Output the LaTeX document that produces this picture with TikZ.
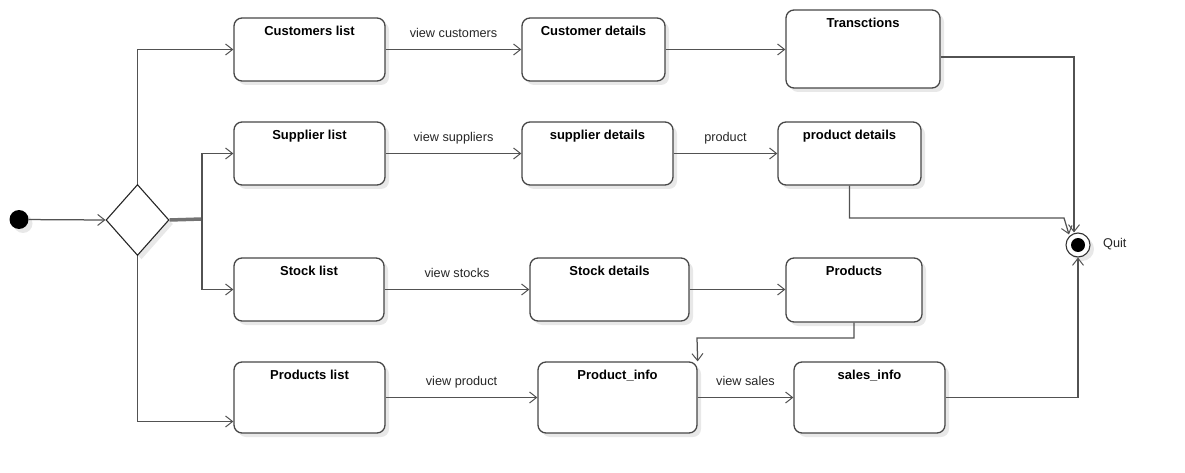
\documentclass[tikz,border=0pt]{standalone}
\usepackage{fontspec}
\setmainfont{Liberation Sans}
\usetikzlibrary{arrows.meta,shapes.geometric,shadows}
\begin{document}
\begin{tikzpicture}[x=1pt,y=-1pt,
  line/.style={draw=black!68, line width=1.25pt},
  arr/.style={line, -{Straight Barb[length=7pt,width=11pt,line width=1pt]}},
  shad/.style={drop shadow={shadow xshift=4pt, shadow yshift=-4pt, fill=black!9, opacity=1}},
  box/.style={draw=black!72, line width=1.3pt, rounded corners=8pt, fill=white, shad, inner sep=0pt},
  title/.style={font=\bfseries\fontsize{13}{15}\selectfont, anchor=north, yshift=-9pt, inner sep=0pt},
  lbl/.style={midway, anchor=base, yshift=12pt, inner sep=0pt, font=\fontsize{12.7}{15}\selectfont, text=black!85},
  lab/.style={inner sep=0pt, font=\fontsize{12.7}{15}\selectfont, text=black!85}
]
\useasboundingbox (0,0) rectangle (1185,473);

% boxes
\node[box, minimum width=151pt, minimum height=63pt, label={[title]north:Customers list}] (cl) at (309.5,49.5) {};
\node[box, minimum width=143pt, minimum height=63pt, label={[title]north:Customer details}] (cd) at (593.5,49.5) {};
\node[box, minimum width=154pt, minimum height=78pt, label={[title]north:Transctions}] (tr) at (863,49) {};

\node[box, minimum width=151pt, minimum height=63pt, label={[title]north:Supplier list}] (sl) at (309.5,153.5) {};
\node[box, minimum width=151pt, minimum height=63pt, label={[title]north:supplier details}] (sd) at (597.5,153.5) {};
\node[box, minimum width=143pt, minimum height=63pt, label={[title]north:product details}] (pd) at (849.5,153.5) {};

\node[box, minimum width=150pt, minimum height=63pt, label={[title]north:Stock list}] (stl) at (309,289.5) {};
\node[box, minimum width=159pt, minimum height=63pt, label={[title]north:Stock details}] (std) at (609.5,289.5) {};
\node[box, minimum width=136pt, minimum height=64pt, label={[title]north:Products}] (prs) at (854,290) {};

\node[box, minimum width=151pt, minimum height=71pt, label={[title]north:Products list}] (pl) at (309.5,397.5) {};
\node[box, minimum width=159pt, minimum height=71pt, label={[title]north:Product\_info}] (pi) at (617.5,397.5) {};
\node[box, minimum width=151pt, minimum height=71pt, label={[title]north:sales\_info}] (si) at (869.5,397.5) {};

% start, decision, end
\node[circle, fill=black, minimum size=19pt, inner sep=0pt, shad] (start) at (19,219.5) {};
\node[diamond, draw=black!85, line width=1.1pt, fill=white, minimum width=63pt, minimum height=71pt, inner sep=0pt, shad] (dia) at (137.5,220) {};
\node[circle, draw=black!80, line width=1.1pt, fill=white, minimum size=24pt, inner sep=0pt, shad] (quit) at (1078,245) {};
\node[circle, fill=black, minimum size=14pt, inner sep=0pt] (quitin) at (quit) {};
\node[lab, anchor=west] (qlab) at (1103,244) {Quit};

% connectors from start / decision
\draw[arr] (start) -- (dia.west);
\draw[arr] (dia.north) |- (cl.west);
\draw[arr] (dia.south) |- ([yshift=-24pt]pl.west);
\coordinate (bus) at (202,219);
\draw[draw=black!55, line width=3.5pt] (dia.east) -- (bus);
\draw[arr] (bus) |- (sl.west);
\draw[arr] (bus) |- (stl.west);

% rows
\draw[arr] (cl) -- node[lbl]{view customers} (cd);
\draw[arr] (cd.east) -- (cd.east -| tr.west);
\draw[arr] (sl) -- node[lbl]{view suppliers} (sd);
\draw[arr] (sd) -- node[lbl]{product} (pd);
\draw[arr] (stl) -- node[lbl]{view stocks} (std);
\draw[arr] (std.east) -- (std.east -| prs.west);
\draw[arr] (pl) -- node[lbl]{view product} (pi);
\draw[arr] (pi) -- node[lbl]{view sales} (si);

% to quit
\draw[arr] ([yshift=-8pt]tr.east) -| ([xshift=-4pt]quit.north);
\draw[arr] (pd.south) |- (1064,218) -- ([xshift=-9pt,yshift=-2pt]quit.north);
\draw[arr] (si.east) -| (quit.south);
\draw[arr] (prs.south) |- (697,338) -- (pi.north east);
\end{tikzpicture}
\end{document}
